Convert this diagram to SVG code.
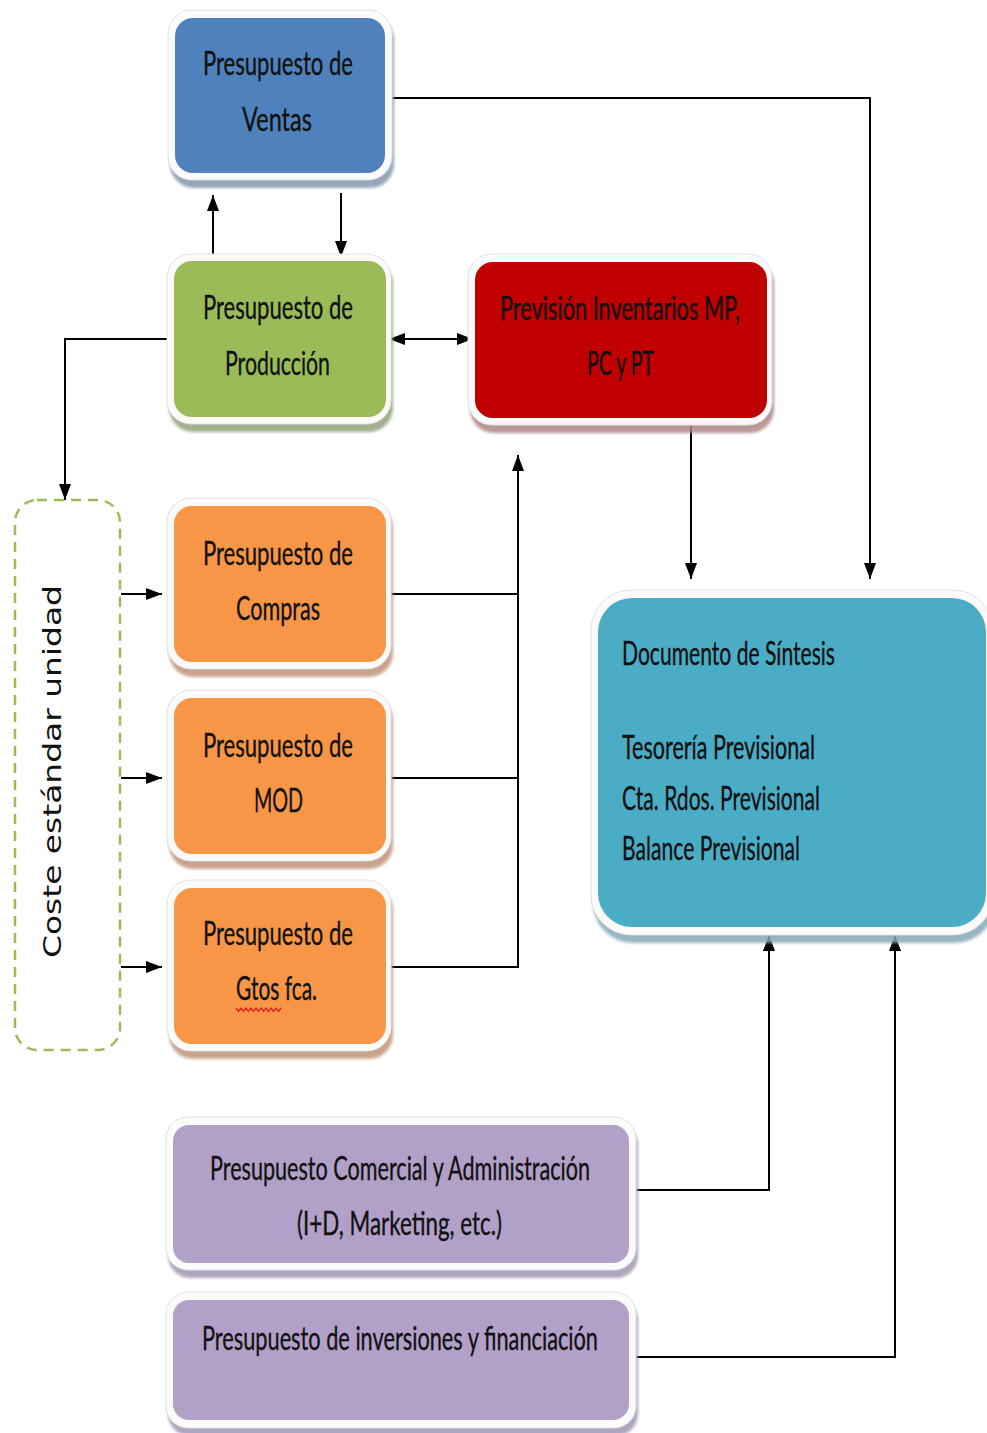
<svg xmlns="http://www.w3.org/2000/svg" width="987" height="1433" viewBox="0 0 987 1433">
  <defs>
    <filter id="soft" x="-10%" y="-10%" width="120%" height="125%">
      <feGaussianBlur stdDeviation="1.6"/>
    </filter>
    <marker id="arrow" viewBox="0 0 16 12" refX="16" refY="6" markerWidth="8" markerHeight="6" orient="auto-start-reverse" markerUnits="strokeWidth">
      <path d="M0,0 L16,6 L0,12 z" fill="#000"/>
    </marker>
  </defs>
  <style>
    .halo { fill: #fbfbfb; stroke: #e2e2e2; stroke-width: 1; }
    .sh { filter: url(#soft); opacity: 0.85; }
    .lbl { font-family: Lato, "Liberation Sans", sans-serif; font-size: 33px; fill: #111; stroke: #111; stroke-width: 0.35; }
    .conn { fill: none; stroke: #000; stroke-width: 2; }
    .blue { fill: #4F81BD; }
    .green { fill: #9BBB59; }
    .red { fill: #C00000; }
    .orange { fill: #F79646; }
    .cyan { fill: #4BACC6; }
    .purple { fill: #B1A0C7; }
    .sh-blue { fill: #8496ae; }
    .sh-green { fill: #93a47a; }
    .sh-red { fill: #b08585; }
    .sh-orange { fill: #c0957a; }
    .sh-cyan { fill: #86a9b6; }
    .sh-purple { fill: #a396b3; }
  </style>
  <rect width="987" height="1433" fill="#ffffff"/>

  <!-- connectors -->
  <g id="connectors">
    <path class="conn" d="M388,98 H870 V579" marker-end="url(#arrow)"/>
    <path class="conn" d="M213,258 V195" marker-end="url(#arrow)"/>
    <path class="conn" d="M341,193 V257" marker-end="url(#arrow)"/>
    <path class="conn" d="M389,339 H473" marker-start="url(#arrow)" marker-end="url(#arrow)"/>
    <path class="conn" d="M173,339 H65 V500" marker-end="url(#arrow)"/>
    <path class="conn" d="M691,425 V579" marker-end="url(#arrow)"/>
    <path class="conn" d="M121,594 H162" marker-end="url(#arrow)"/>
    <path class="conn" d="M121,778 H162" marker-end="url(#arrow)"/>
    <path class="conn" d="M121,967 H162" marker-end="url(#arrow)"/>
    <path class="conn" d="M388,594 H518"/>
    <path class="conn" d="M388,778 H518"/>
    <path class="conn" d="M388,967 H518 V455" marker-end="url(#arrow)"/>
    <path class="conn" d="M632,1190 H769 V935" marker-end="url(#arrow)"/>
    <path class="conn" d="M632,1357 H895 V935" marker-end="url(#arrow)"/>
  </g>

  <!-- Presupuesto de Ventas -->
  <g id="ventas">
    <rect class="sh sh-blue" x="170" y="16" width="224" height="172" rx="24"/>
    <rect class="halo" x="168" y="10" width="224" height="170" rx="24"/>
    <rect class="blue" x="175" y="18" width="210" height="155" rx="18"/>
    <text class="lbl" x="203" y="75" textLength="150" lengthAdjust="spacingAndGlyphs">Presupuesto de</text>
    <text class="lbl" x="242" y="131" textLength="70" lengthAdjust="spacingAndGlyphs">Ventas</text>
  </g>

  <!-- Presupuesto de Producción -->
  <g id="produccion">
    <rect class="sh sh-green" x="169" y="260" width="224" height="172" rx="24"/>
    <rect class="halo" x="167" y="254" width="224" height="170" rx="24"/>
    <rect class="green" x="174" y="261" width="212" height="156" rx="18"/>
    <text class="lbl" x="203" y="319" textLength="150" lengthAdjust="spacingAndGlyphs">Presupuesto de</text>
    <text class="lbl" x="225" y="375" textLength="105" lengthAdjust="spacingAndGlyphs">Producción</text>
  </g>

  <!-- Previsión Inventarios -->
  <g id="inventarios">
    <rect class="sh sh-red" x="470" y="260" width="304" height="173" rx="24"/>
    <rect class="halo" x="468" y="254" width="304" height="171" rx="24"/>
    <rect class="red" x="475" y="262" width="292" height="156" rx="18"/>
    <text class="lbl" x="500" y="320" textLength="240" lengthAdjust="spacingAndGlyphs">Previsión Inventarios MP,</text>
    <text class="lbl" x="587" y="375" textLength="67" lengthAdjust="spacingAndGlyphs">PC y PT</text>
  </g>

  <!-- Coste estándar unidad -->
  <g id="coste">
    <rect x="15" y="500" width="105" height="550" rx="22" fill="none" stroke="#9BBB59" stroke-width="2.5" stroke-dasharray="10 7"/>
    <text transform="translate(61,958) rotate(-90)" x="0" y="0" font-family="'DejaVu Sans', Verdana, sans-serif" font-size="24" fill="#111" textLength="373" lengthAdjust="spacingAndGlyphs">Coste estándar unidad</text>
  </g>

  <!-- Presupuesto de Compras -->
  <g id="compras">
    <rect class="sh sh-orange" x="169" y="504" width="224" height="173" rx="24"/>
    <rect class="halo" x="167" y="498" width="224" height="171" rx="24"/>
    <rect class="orange" x="174" y="506" width="212" height="156" rx="18"/>
    <text class="lbl" x="203" y="565" textLength="150" lengthAdjust="spacingAndGlyphs">Presupuesto de</text>
    <text class="lbl" x="236" y="620" textLength="84" lengthAdjust="spacingAndGlyphs">Compras</text>
  </g>

  <!-- Presupuesto de MOD -->
  <g id="mod">
    <rect class="sh sh-orange" x="169" y="696" width="224" height="173" rx="24"/>
    <rect class="halo" x="167" y="690" width="224" height="171" rx="24"/>
    <rect class="orange" x="174" y="698" width="212" height="156" rx="18"/>
    <text class="lbl" x="203" y="757" textLength="150" lengthAdjust="spacingAndGlyphs">Presupuesto de</text>
    <text class="lbl" x="254" y="812" textLength="49" lengthAdjust="spacingAndGlyphs">MOD</text>
  </g>

  <!-- Presupuesto de Gtos fca. -->
  <g id="gtos">
    <rect class="sh sh-orange" x="169" y="886" width="224" height="173" rx="24"/>
    <rect class="halo" x="167" y="880" width="224" height="171" rx="24"/>
    <rect class="orange" x="174" y="888" width="212" height="156" rx="18"/>
    <text class="lbl" x="203" y="945" textLength="150" lengthAdjust="spacingAndGlyphs">Presupuesto de</text>
    <text class="lbl" x="236" y="1000" textLength="81" lengthAdjust="spacingAndGlyphs">Gtos fca.</text>
    <path d="M236,1008 l2.5,3.5 l2.5,-3.5 l2.5,3.5 l2.5,-3.5 l2.5,3.5 l2.5,-3.5 l2.5,3.5 l2.5,-3.5 l2.5,3.5 l2.5,-3.5 l2.5,3.5 l2.5,-3.5 l2.5,3.5 l2.5,-3.5 l2.5,3.5 l2.5,-3.5 l2.5,3.5 l2.5,-3.5" fill="none" stroke="#e02020" stroke-width="1.3"/>
  </g>

  <!-- Documento de Síntesis -->
  <g id="sintesis">
    <rect class="sh sh-cyan" x="593" y="596" width="402" height="347" rx="40"/>
    <rect class="halo" x="591" y="590" width="402" height="345" rx="40"/>
    <rect class="cyan" x="598" y="598" width="388" height="329" rx="34"/>
    <text class="lbl" x="622" y="665" textLength="213" lengthAdjust="spacingAndGlyphs">Documento de Síntesis</text>
    <text class="lbl" x="622" y="759" textLength="193" lengthAdjust="spacingAndGlyphs">Tesorería Previsional</text>
    <text class="lbl" x="622" y="810" textLength="198" lengthAdjust="spacingAndGlyphs">Cta. Rdos. Previsional</text>
    <text class="lbl" x="622" y="860" textLength="178" lengthAdjust="spacingAndGlyphs">Balance Previsional</text>
  </g>

  <!-- Presupuesto Comercial y Administración -->
  <g id="comercial">
    <rect class="sh sh-purple" x="168" y="1123" width="470" height="155" rx="22"/>
    <rect class="halo" x="166" y="1117" width="470" height="153" rx="22"/>
    <rect class="purple" x="173" y="1125" width="456" height="138" rx="16"/>
    <text class="lbl" x="210" y="1180" textLength="380" lengthAdjust="spacingAndGlyphs">Presupuesto Comercial y Administración</text>
    <text class="lbl" x="297" y="1235" textLength="205" lengthAdjust="spacingAndGlyphs">(I+D, Marketing, etc.)</text>
  </g>

  <!-- Presupuesto de inversiones y financiación -->
  <g id="inversiones">
    <rect class="sh sh-purple" x="168" y="1298" width="470" height="138" rx="22"/>
    <rect class="halo" x="166" y="1292" width="470" height="136" rx="22"/>
    <rect class="purple" x="173" y="1300" width="456" height="120" rx="16"/>
    <text class="lbl" x="202" y="1350" textLength="396" lengthAdjust="spacingAndGlyphs">Presupuesto de inversiones y financiación</text>
  </g>
</svg>
